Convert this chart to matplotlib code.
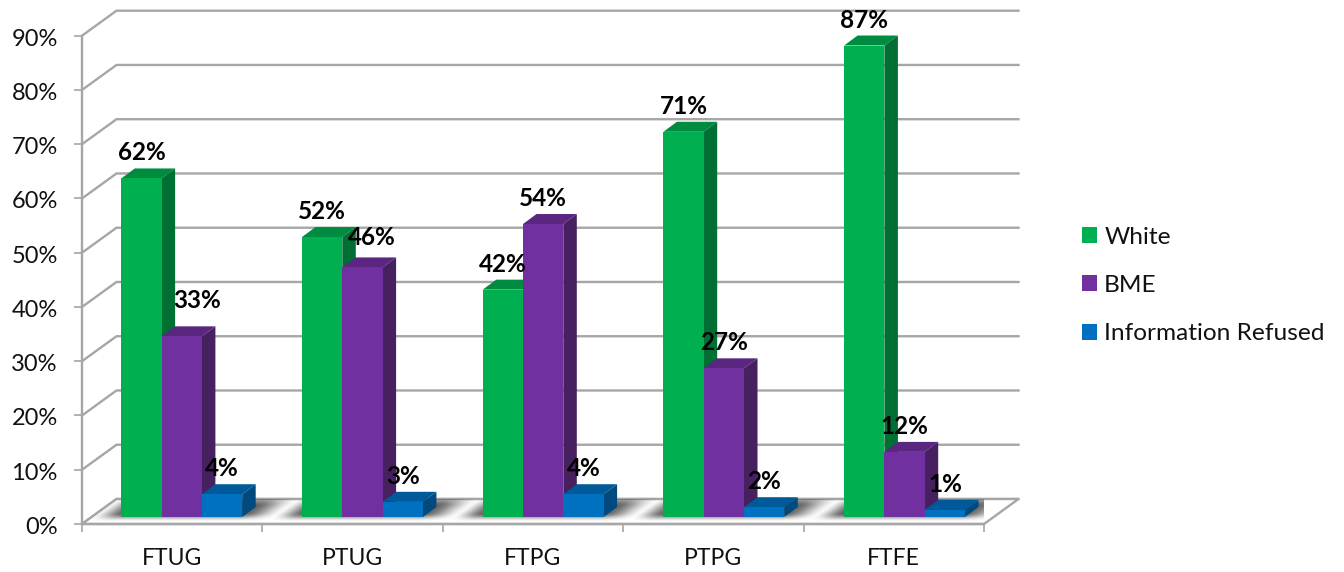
import numpy as np
import matplotlib
matplotlib.use("Agg")
import matplotlib.pyplot as plt
from matplotlib.patches import Polygon
from matplotlib.transforms import ScaledTranslation

categories = ["FTUG", "PTUG", "FTPG", "PTPG", "FTFE"]
white = [62.4, 51.6, 41.9, 71.0, 86.9]
bme = [33.3, 46.0, 54.0, 27.4, 12.0]
refused = [4.2, 2.8, 4.2, 1.8, 1.3]
series_names = ["White", "BME", "Information Refused"]
y_ticks = [0, 10, 20, 30, 40, 50, 60, 70, 80, 90]

FONT = "Lato"
W, H = 1344, 572
fig = plt.figure(figsize=(W / 100, H / 100), dpi=100)
L, R, T, B = 82, 984, 35.7, 524
ax = fig.add_axes([L / W, 1 - B / H, (R - L) / W, (B - T) / H])
ax.set_xlim(0, 5)
ax.set_ylim(0, 90)
px = (R - L) / 5
py = (B - T) / 90

def dx(p):
    return p / px

def dy(p):
    return p / py

GRID = "#a6a6a6"
BX, BY = dx(34.5), dy(25)
# back wall and left wall gridlines
for v in y_ticks:
    ax.plot([0, BX, 5 + BX], [v, v + BY, v + BY], color=GRID, lw=1.7, clip_on=False, zorder=1,
            solid_joinstyle="round")
# floor
floor = Polygon([(0, 0), (5, 0), (5 + BX, BY), (BX, BY)], closed=True, facecolor="white",
                edgecolor=GRID, lw=1.7, clip_on=False, zorder=1.5)
ax.add_patch(floor)

# floor shadow
nx, ny = 1100, 40
xs = np.linspace(0, 5 + BX, nx)
ys = np.linspace(0, BY, ny)
XX, YY = np.meshgrid(xs, ys)
SKEW = XX - YY * BX / BY

def smooth(t):
    t = np.clip(t, 0, 1)
    return t * t * (3 - 2 * t)

shadow = np.zeros_like(XX)
for i in range(len(categories)):
    a = i + dx(-2)
    b = i + dx(186)
    sx = smooth((SKEW - a) / dx(30)) * smooth((b - SKEW) / dx(40))
    sy = smooth((YY - dy(2)) / dy(9)) * smooth((BY - YY + dy(7)) / dy(14))
    shadow = np.maximum(shadow, sx * sy)
rgba = np.zeros(XX.shape + (4,))
rgba[..., :3] = 0.27
rgba[..., 3] = shadow * 0.85
im = ax.imshow(rgba, extent=[0, 5 + BX, 0, BY], origin="lower", aspect="auto", zorder=1.6, clip_on=True)
im.set_clip_path(floor)
ax.set_xlim(0, 5)
ax.set_ylim(0, 90)

# bars
series = [white, bme, refused]
front = ["#00b050", "#7030a0", "#0070c0"]
top = ["#008c40", "#5a2680", "#005a9a"]
side = ["#006f33", "#46205f", "#004a80"]
BW = 40.3 / px
X0 = 39.3 / px
BASE = dy(7)
DX, DY = dx(13.5), dy(10)
STEP = 180.7 / px
handles = []
x_pos = np.arange(len(categories), dtype=float)
for s, vals in enumerate(series):
    xleft = x_pos * STEP + X0 + s * BW
    bars = ax.bar(xleft, vals, BW, bottom=BASE, align="edge", color=front[s], clip_on=False,
                  zorder=3 + s * 3, label=series_names[s], linewidth=0)
    handles.append(bars)
    for x, v in zip(xleft, vals):
        t = BASE + v
        ax.add_patch(Polygon([(x, t), (x + BW, t), (x + BW + DX, t + DY), (x + DX, t + DY)],
                             facecolor=top[s], lw=0, clip_on=False, zorder=2.9 + s * 3))
        ax.add_patch(Polygon([(x + BW, BASE), (x + BW + DX, BASE + DY), (x + BW + DX, t + DY), (x + BW, t)],
                             facecolor=side[s], lw=0, clip_on=False, zorder=2.9 + s * 3))

# data labels (two were moved by hand in the reference)
nudges = {(1, 0): (15, 10), (1, 1): (9, 4)}
for s, vals in enumerate(series):
    xleft = x_pos * STEP + X0 + s * BW
    for i, (x, v) in enumerate(zip(xleft, vals)):
        nx_, ny_ = nudges.get((s, i), (0, 0))
        ax.text(x + BW / 2 + dx(nx_), BASE + v + dy(14 + ny_), f"{v:.0f}%", ha="center", va="bottom",
                fontsize=17.5, fontweight="bold", family=FONT, color="black", zorder=20, clip_on=False)

# axes
for k in ("top", "right"):
    ax.spines[k].set_visible(False)
for k in ("left", "bottom"):
    ax.spines[k].set_color(GRID)
    ax.spines[k].set_linewidth(1.7)
    ax.spines[k].set_zorder(2)
ax.patch.set_alpha(0)
ax.set_yticks(y_ticks)
ax.set_yticklabels([f"{v}%" for v in y_ticks], family=FONT, fontsize=17)
ax.set_xticks(range(6))
ax.set_xticklabels([])
ax.set_xticks(x_pos + 0.5, minor=True)
ax.set_xticklabels(categories, minor=True, family=FONT, fontsize=16.5)
ax.tick_params(axis="y", length=6, width=1.2, color=GRID, pad=11.5, labelcolor="#111111")
ax.tick_params(axis="x", which="major", length=6, width=1.2, color=GRID)
ax.tick_params(axis="x", which="minor", length=0, pad=17.5, labelcolor="#111111")
shift = ScaledTranslation(0, -1.5 / 100, fig.dpi_scale_trans)
for lab in ax.get_yticklabels():
    lab.set_transform(lab.get_transform() + shift)

fig.legend(handles=handles, labels=series_names, loc="center left",
           bbox_to_anchor=(1082 / W, 1 - 285.5 / H), frameon=False, prop={"family": FONT, "size": 17.6},
           handlelength=0.62, handleheight=0.62, handletextpad=0.29, labelspacing=1.12,
           borderpad=0, borderaxespad=0, labelcolor="#111111")

fig.savefig("out.png", dpi=100)
